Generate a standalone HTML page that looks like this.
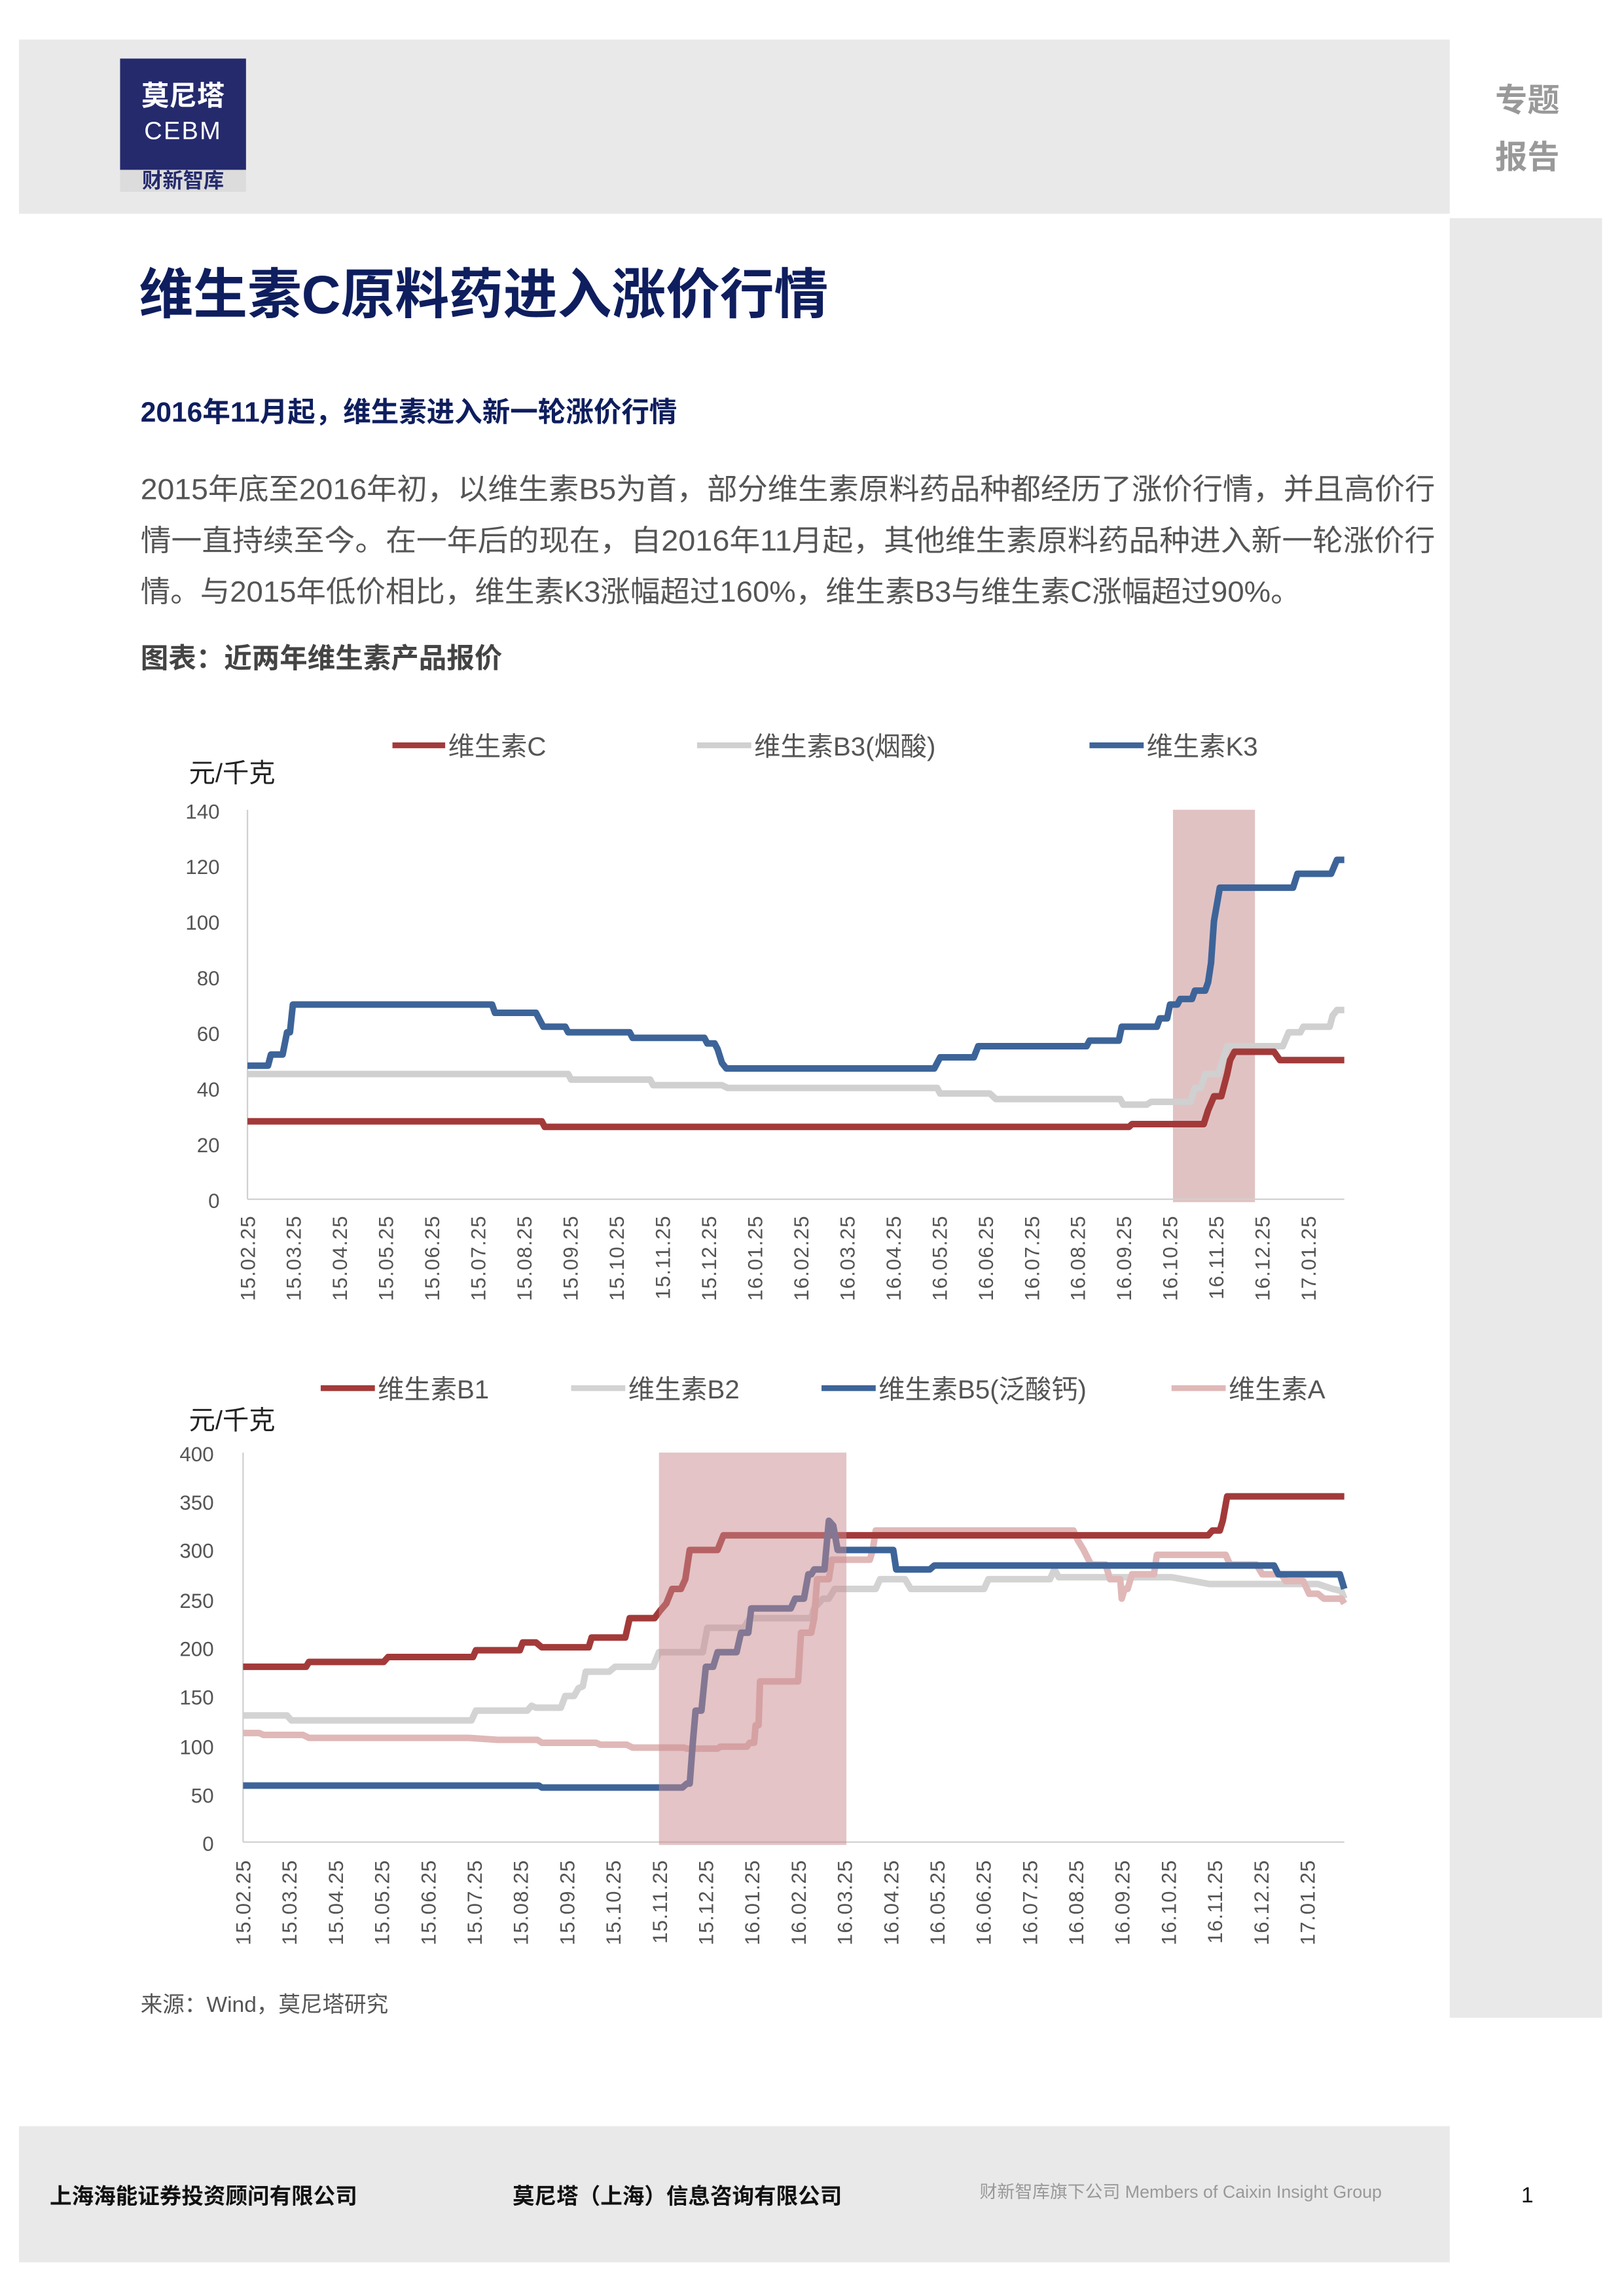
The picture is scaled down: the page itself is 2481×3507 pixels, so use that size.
<!DOCTYPE html>
<html><head><meta charset="utf-8"><style>
html,body{margin:0;padding:0;background:#fff;}
svg{display:block;}
text{font-family:"Liberation Sans","Noto Sans CJK SC",sans-serif;}
</style></head><body>
<svg width="2481" height="3507" viewBox="0 0 1109 1568" preserveAspectRatio="none" xmlns="http://www.w3.org/2000/svg">
<!-- header -->
<rect x="13" y="27" width="977" height="119" fill="#e9e9e9"/>
<rect x="990" y="149" width="104" height="1229" fill="#e9e9e9"/>
<rect x="82" y="40" width="86" height="76" fill="#252a6d"/>
<rect x="82" y="116" width="86" height="15" fill="#dcdcdc"/>
<text x="125" y="72" font-size="19" font-weight="bold" fill="#fff" text-anchor="middle">莫尼塔</text>
<text x="125" y="95" font-size="17" fill="#fff" text-anchor="middle" letter-spacing="1">CEBM</text>
<text x="125" y="128" font-size="14" font-weight="bold" fill="#252a6d" text-anchor="middle">财新智库</text>
<text x="1043" y="76" font-size="22" font-weight="bold" fill="#999" text-anchor="middle">专题</text>
<text x="1043" y="115" font-size="22" font-weight="bold" fill="#999" text-anchor="middle">报告</text>
<!-- titles -->
<text x="95" y="214" font-size="37" font-weight="bold" fill="#0e1e5e">维生素C原料药进入涨价行情</text>
<text x="96" y="288" font-size="19" font-weight="bold" fill="#0e1e5e">2016年11月起，维生素进入新一轮涨价行情</text>
<g font-size="20" fill="#555">
<text x="96" y="341" textLength="884" lengthAdjust="spacingAndGlyphs">2015年底至2016年初，以维生素B5为首，部分维生素原料药品种都经历了涨价行情，并且高价行</text>
<text x="96" y="376" textLength="884" lengthAdjust="spacingAndGlyphs">情一直持续至今。在一年后的现在，自2016年11月起，其他维生素原料药品种进入新一轮涨价行</text>
<text x="96" y="411" textLength="792" lengthAdjust="spacingAndGlyphs">情。与2015年低价相比，维生素K3涨幅超过160%，维生素B3与维生素C涨幅超过90%。</text>
</g>
<text x="96" y="456" font-size="19" font-weight="bold" fill="#444">图表：近两年维生素产品报价</text>

<!-- CHART 1 -->
<g font-size="18" fill="#555">
<line x1="268" y1="509" x2="304" y2="509" stroke="#a33a3a" stroke-width="4"/><text x="306" y="516">维生素C</text>
<line x1="476" y1="509" x2="513" y2="509" stroke="#d0d0d0" stroke-width="4"/><text x="515" y="516">维生素B3(烟酸)</text>
<line x1="744" y1="509" x2="781" y2="509" stroke="#3d6499" stroke-width="4"/><text x="783" y="516">维生素K3</text>
</g>
<text x="129" y="534" font-size="18" fill="#222">元/千克</text>
<rect x="801" y="553" width="56" height="268" fill="#e1c2c3"/>
<g stroke="#d0d0d0" stroke-width="1">
<line x1="169" y1="553" x2="169" y2="819"/><line x1="169" y1="819" x2="918" y2="819"/>
</g>
<g font-size="14" fill="#555" text-anchor="end">
<text x="150" y="559">140</text><text x="150" y="597">120</text><text x="150" y="635">100</text><text x="150" y="673">80</text><text x="150" y="711">60</text><text x="150" y="749">40</text><text x="150" y="787">20</text><text x="150" y="825">0</text>
</g>
<g fill="none" stroke-width="4.5" stroke-linejoin="round" transform="matrix(1 0 0 -1.9 0 819)">
<polyline vector-effect="non-scaling-stroke" stroke-width="10" stroke="#d0d0d0" points="169,45 388,45 390,43 444,43 446,41 493,41 497,40 640,40 642,38 676,38 680,36 765,36 767,34 783,34 786,35 813,35 816,40 820,40 823,45 832,45 838,55 876,55 880,60 888,60 890,62 908,62 910,66 913,68 918,68"/>
<polyline vector-effect="non-scaling-stroke" stroke-width="10" stroke="#a33a3a" points="169,28 370,28 372,26 771,26 773,27 822,27 825,32 829,37 834,37 838,45 840,50 843,53 870,53 874,50 918,50"/>
<polyline vector-effect="non-scaling-stroke" stroke-width="10" stroke="#3d6499" points="169,48 183,48 185,52 193,52 196,60 198,60 200,70 336,70 338,67 366,67 368,65 371,62 386,62 388,60 430,60 432,58 481,58 483,56 488,56 490,54 493,49 496,47 638,47 642,51 665,51 668,55 742,55 744,57 764,57 766,62 790,62 792,65 797,65 799,70 804,70 806,72 814,72 816,75 823,75 825,78 827,85 829,100 833,112 883,112 886,117 909,117 913,122 918,122"/>
</g>
<g font-size="14" fill="#555" text-anchor="end" letter-spacing="0.5">
<text transform="translate(174,830) rotate(-90)">15.02.25</text>
<text transform="translate(205.5,830) rotate(-90)">15.03.25</text>
<text transform="translate(237,830) rotate(-90)">15.04.25</text>
<text transform="translate(268.5,830) rotate(-90)">15.05.25</text>
<text transform="translate(300,830) rotate(-90)">15.06.25</text>
<text transform="translate(331.5,830) rotate(-90)">15.07.25</text>
<text transform="translate(363,830) rotate(-90)">15.08.25</text>
<text transform="translate(394.5,830) rotate(-90)">15.09.25</text>
<text transform="translate(426,830) rotate(-90)">15.10.25</text>
<text transform="translate(457.5,830) rotate(-90)">15.11.25</text>
<text transform="translate(489,830) rotate(-90)">15.12.25</text>
<text transform="translate(520.5,830) rotate(-90)">16.01.25</text>
<text transform="translate(552,830) rotate(-90)">16.02.25</text>
<text transform="translate(583.5,830) rotate(-90)">16.03.25</text>
<text transform="translate(615,830) rotate(-90)">16.04.25</text>
<text transform="translate(646.5,830) rotate(-90)">16.05.25</text>
<text transform="translate(678,830) rotate(-90)">16.06.25</text>
<text transform="translate(709.5,830) rotate(-90)">16.07.25</text>
<text transform="translate(741,830) rotate(-90)">16.08.25</text>
<text transform="translate(772.5,830) rotate(-90)">16.09.25</text>
<text transform="translate(804,830) rotate(-90)">16.10.25</text>
<text transform="translate(835.5,830) rotate(-90)">16.11.25</text>
<text transform="translate(867,830) rotate(-90)">16.12.25</text>
<text transform="translate(898.5,830) rotate(-90)">17.01.25</text>
</g>

<!-- CHART 2 -->
<g font-size="18" fill="#555">
<line x1="219" y1="948" x2="256" y2="948" stroke="#a33a3a" stroke-width="4"/><text x="258" y="955">维生素B1</text>
<line x1="390" y1="948" x2="427" y2="948" stroke="#d3d3d3" stroke-width="4"/><text x="429" y="955">维生素B2</text>
<line x1="561" y1="948" x2="598" y2="948" stroke="#3d6499" stroke-width="4"/><text x="600" y="955">维生素B5(泛酸钙)</text>
<line x1="800" y1="948" x2="837" y2="948" stroke="#e0b8b8" stroke-width="4"/><text x="839" y="955">维生素A</text>
</g>
<text x="129" y="976" font-size="18" fill="#222">元/千克</text>
<g stroke="#d0d0d0" stroke-width="1">
<line x1="166" y1="992" x2="166" y2="1258"/><line x1="166" y1="1258" x2="918" y2="1258"/>
</g>
<g font-size="14" fill="#555" text-anchor="end">
<text x="146" y="998">400</text><text x="146" y="1031">350</text><text x="146" y="1064">300</text><text x="146" y="1098">250</text><text x="146" y="1131">200</text><text x="146" y="1164">150</text><text x="146" y="1198">100</text><text x="146" y="1231">50</text><text x="146" y="1264">0</text>
</g>
<g fill="none" stroke-linejoin="round" transform="matrix(1 0 0 -0.665 0 1258)">
<polyline vector-effect="non-scaling-stroke" stroke-width="10" stroke="#d3d3d3" points="166,130 196,130 199,125 322,125 325,135 360,135 363,140 366,138 383,138 386,150 392,150 395,158 398,160 400,175 416,175 420,180 446,180 450,195 480,195 483,220 508,220 512,230 554,230 556,240 562,250 566,250 570,260 598,260 601,270 618,270 622,260 672,260 675,270 717,270 720,280 723,272 800,272 826,265 900,265 910,260 916,258 918,250"/>
<polyline vector-effect="non-scaling-stroke" stroke-width="10" stroke="#e0b8b8" points="166,112 177,112 180,110 207,110 211,107 320,107 340,105 367,105 370,102 407,102 410,100 428,100 432,97 467,97 469,96 490,96 492,98 510,98 512,102 515,102 516,120 518,120 519,165 545,165 547,215 554,215 556,230 558,270 566,270 568,290 594,290 596,300 598,320 733,320 736,310 740,300 745,285 755,285 758,270 765,270 766,250 768,260 770,260 773,275 788,275 790,295 837,295 840,285 858,285 862,275 875,275 878,268 890,268 894,255 900,255 904,250 916,250 918,245"/>
<polyline vector-effect="non-scaling-stroke" stroke-width="10" stroke="#a33a3a" points="166,180 209,180 211,185 262,185 265,190 323,190 325,197 355,197 357,205 366,205 370,200 402,200 404,210 427,210 430,230 447,230 451,238 455,245 459,260 465,260 468,270 471,300 490,300 494,315 825,315 828,320 833,320 835,330 838,355 918,355"/>
<polyline vector-effect="non-scaling-stroke" stroke-width="10" stroke="#3d6499" points="166,58 368,58 370,56 466,56 469,60 471,60 473,100 475,135 479,135 482,180 487,180 490,195 503,195 506,215 511,215 513,240 540,240 543,250 549,250 552,275 554,275 556,280 563,280 566,330 569,325 572,300 610,300 612,280 635,280 638,284 870,284 873,275 915,275 918,260"/>
</g>
<rect x="450" y="992" width="128" height="268" fill="#c98a8e" fill-opacity="0.5"/>
<g font-size="14" fill="#555" text-anchor="end" letter-spacing="0.5">
<text transform="translate(171,1270) rotate(-90)">15.02.25</text>
<text transform="translate(202.6,1270) rotate(-90)">15.03.25</text>
<text transform="translate(234.2,1270) rotate(-90)">15.04.25</text>
<text transform="translate(265.8,1270) rotate(-90)">15.05.25</text>
<text transform="translate(297.4,1270) rotate(-90)">15.06.25</text>
<text transform="translate(329,1270) rotate(-90)">15.07.25</text>
<text transform="translate(360.6,1270) rotate(-90)">15.08.25</text>
<text transform="translate(392.2,1270) rotate(-90)">15.09.25</text>
<text transform="translate(423.8,1270) rotate(-90)">15.10.25</text>
<text transform="translate(455.4,1270) rotate(-90)">15.11.25</text>
<text transform="translate(487,1270) rotate(-90)">15.12.25</text>
<text transform="translate(518.6,1270) rotate(-90)">16.01.25</text>
<text transform="translate(550.2,1270) rotate(-90)">16.02.25</text>
<text transform="translate(581.8,1270) rotate(-90)">16.03.25</text>
<text transform="translate(613.4,1270) rotate(-90)">16.04.25</text>
<text transform="translate(645,1270) rotate(-90)">16.05.25</text>
<text transform="translate(676.6,1270) rotate(-90)">16.06.25</text>
<text transform="translate(708.2,1270) rotate(-90)">16.07.25</text>
<text transform="translate(739.8,1270) rotate(-90)">16.08.25</text>
<text transform="translate(771.4,1270) rotate(-90)">16.09.25</text>
<text transform="translate(803,1270) rotate(-90)">16.10.25</text>
<text transform="translate(834.6,1270) rotate(-90)">16.11.25</text>
<text transform="translate(866.2,1270) rotate(-90)">16.12.25</text>
<text transform="translate(897.8,1270) rotate(-90)">17.01.25</text>
</g>
<text x="96" y="1374" font-size="15" fill="#555">来源：Wind，莫尼塔研究</text>

<!-- footer -->
<rect x="13" y="1452" width="977" height="93" fill="#e9e9e9"/>
<text x="34" y="1505" font-size="15" font-weight="bold" fill="#111">上海海能证券投资顾问有限公司</text>
<text x="350" y="1505" font-size="15" font-weight="bold" fill="#111">莫尼塔（上海）信息咨询有限公司</text>
<text x="669" y="1501" font-size="12" fill="#999">财新智库旗下公司 Members of Caixin Insight Group</text>
<text x="1043" y="1504" font-size="15" fill="#111" text-anchor="middle">1</text>
</svg>
</body></html>
